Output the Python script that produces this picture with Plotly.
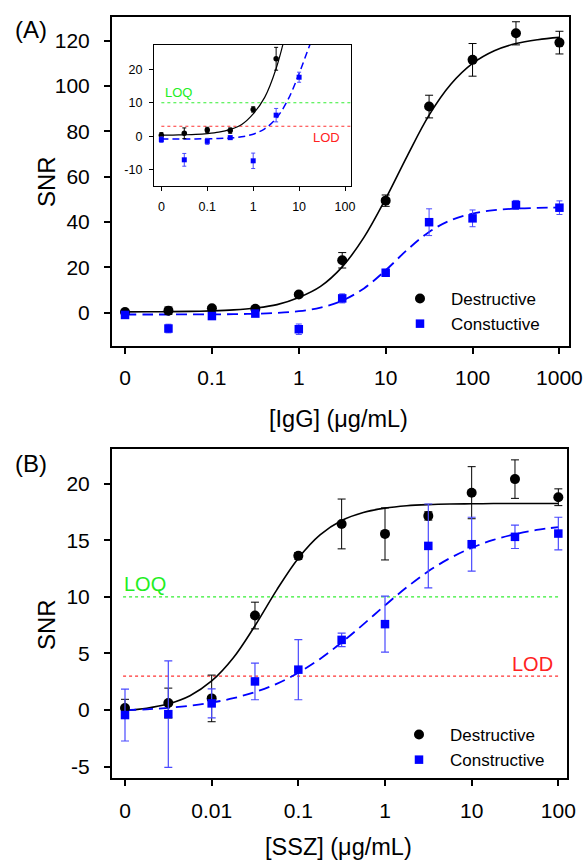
import plotly.graph_objects as go

FONT = "Arial, Liberation Sans, sans-serif"
W, H = 586, 864

# ---------------- Panel A data ([IgG]) ----------------
a_conc = [0.01, 0.0316, 0.1, 0.316, 1, 3.16, 10, 31.6, 100, 316, 1000]
a_tick_vals = [0.01, 0.1, 1, 10, 100, 1000]
a_tick_text = ["0", "0.1", "1", "10", "100", "1000"]
a_ytick_vals = [0, 20, 40, 60, 80, 100, 120]
a_ytick_text = ["0", "20", "40", "60", "80", "100", "120"]
a_des = [0.3, 0.9, 1.9, 1.7, 8.0, 23.1, 49.4, 90.9, 111.5, 123.2, 119.1]
a_des_err = [0.8, 1.6, 0.8, 0.8, 0.8, 3.4, 2.5, 5.0, 7.2, 5.1, 5.0]
a_con = [-1.0, -7.0, -1.5, -0.4, -7.3, 6.3, 17.6, 39.9, 41.6, 47.5, 46.3]
a_con_err = [0.8, 1.9, 0.9, 0.5, 2.3, 2.0, 1.5, 5.9, 3.7, 2.0, 3.0]

# fitted curves (at quarter decades)
a_fit_x = [0.01, 0.0178, 0.0316, 0.0562, 0.1, 0.178, 0.316, 0.562, 1, 1.78, 3.16,
           5.62, 10, 17.8, 31.6, 56.2, 100, 178, 316, 562, 1000]
a_des_fit = [0.34, 0.38, 0.45, 0.57, 0.81, 1.24, 2.05, 3.55, 6.7, 11.6, 20.2,
             33.2, 50.3, 69.3, 87.1, 100.7, 109.9, 115.5, 118.7, 120.4, 121.4]
a_con_fit = [-0.8, -0.8, -0.8, -0.77, -0.73, -0.66, -0.49, -0.13, 0.64, 2.23, 5.3,
             10.7, 18.7, 27.8, 35.6, 40.8, 43.7, 45.2, 45.9, 46.2, 46.4]

# inset
inset_tick_vals = [0.01, 0.1, 1, 10, 100]
inset_tick_text = ["0", "0.1", "1", "10", "100"]
inset_ytick_vals = [-10, 0, 10, 20]
inset_ytick_text = ["-10", "0", "10", "20"]
loq_level = 10
lod_level = 3
inset_line_x = [0.01, 1000]

# ---------------- Panel B data ([SSZ]) ----------------
b_conc = [0.001, 0.00316, 0.01, 0.0316, 0.1, 0.316, 1, 3.16, 10, 31.6, 100]
b_tick_vals = [0.001, 0.01, 0.1, 1, 10, 100]
b_tick_text = ["0", "0.01", "0.1", "1", "10", "100"]
b_ytick_vals = [-5, 0, 5, 10, 15, 20]
b_ytick_text = ["-5", "0", "5", "10", "15", "20"]
b_des = [0.18, 0.62, 1.03, 8.35, 13.62, 16.44, 15.56, 17.15, 19.2, 20.4, 18.8]
b_des_err = [0.77, 1.32, 2.06, 1.18, 0.3, 2.2, 2.3, 0.37, 2.3, 1.7, 0.74]
b_con = [-0.44, -0.36, 0.59, 2.53, 3.57, 6.2, 7.59, 14.5, 14.65, 15.3, 15.59]
b_con_err = [2.29, 4.7, 1.28, 1.62, 2.66, 0.59, 2.47, 3.7, 2.38, 1.03, 1.44]

b_fit_x = [0.001, 0.00178, 0.00316, 0.00562, 0.01, 0.0178, 0.0316, 0.0562, 0.1, 0.178,
           0.316, 0.562, 1, 1.78, 3.16, 5.62, 10, 17.8, 31.6, 56.2, 100]
b_des_fit = [-0.04, 0.16, 0.55, 1.27, 2.57, 4.62, 7.45, 10.6, 13.42, 15.48,
             16.75, 17.46, 17.84, 18.05, 18.15, 18.2, 18.22, 18.24, 18.25, 18.25, 18.25]
b_con_fit = [-0.01, 0.07, 0.20, 0.39, 0.66, 1.05, 1.59, 2.32, 3.30, 4.52,
             5.97, 7.57, 9.25, 10.84, 12.26, 13.42, 14.33, 15.03, 15.54, 15.91, 16.16]
b_line_x = [0.00095, 100]

# ---------------- layout geometry ----------------
def px_x(v):
    return v / W

def px_y(v):
    return 1 - v / H

fig = go.Figure()

BLUE = "#0000ff"
BLUE_ERR = "#4a4aff"

# Panel A main
fig.add_trace(go.Scatter(x=a_fit_x, y=a_des_fit, mode="lines", line=dict(color="black", width=1.6, shape="spline"),
                         xaxis="x", yaxis="y", showlegend=False, hoverinfo="skip"))
fig.add_trace(go.Scatter(x=a_fit_x, y=a_con_fit, mode="lines",
                         line=dict(color=BLUE, width=1.8, dash="11px,6px", shape="spline"),
                         xaxis="x", yaxis="y", showlegend=False, hoverinfo="skip"))
fig.add_trace(go.Scatter(x=a_conc, y=a_des, mode="markers", marker=dict(symbol="circle", size=10, color="black"),
                         error_y=dict(type="data", array=a_des_err, color="black", thickness=1, width=4),
                         xaxis="x", yaxis="y", showlegend=False))
fig.add_trace(go.Scatter(x=a_conc, y=a_con, mode="markers", marker=dict(symbol="square", size=8.5, color=BLUE),
                         error_y=dict(type="data", array=a_con_err, color=BLUE_ERR, thickness=1, width=3),
                         xaxis="x", yaxis="y", showlegend=False))
# legend entries A
fig.add_trace(go.Scatter(x=[None], y=[None], mode="markers", name="Destructive",
                         marker=dict(symbol="circle", size=10, color="black"), legend="legend",
                         xaxis="x", yaxis="y"))
fig.add_trace(go.Scatter(x=[None], y=[None], mode="markers", name="Constuctive",
                         marker=dict(symbol="square", size=8.5, color=BLUE), legend="legend",
                         xaxis="x", yaxis="y"))

# Inset
fig.add_trace(go.Scatter(x=inset_line_x, y=[loq_level, loq_level], mode="lines",
                         line=dict(color="#33ee33", width=1.2, dash="dot"),
                         xaxis="x3", yaxis="y3", showlegend=False, hoverinfo="skip"))
fig.add_trace(go.Scatter(x=inset_line_x, y=[lod_level, lod_level], mode="lines",
                         line=dict(color="#ff3333", width=1.2, dash="dot"),
                         xaxis="x3", yaxis="y3", showlegend=False, hoverinfo="skip"))
fig.add_trace(go.Scatter(x=a_fit_x, y=a_des_fit, mode="lines", line=dict(color="black", width=1.2, shape="spline"),
                         xaxis="x3", yaxis="y3", showlegend=False, hoverinfo="skip"))
fig.add_trace(go.Scatter(x=a_fit_x, y=a_con_fit, mode="lines",
                         line=dict(color=BLUE, width=1.5, dash="7px,4px", shape="spline"),
                         xaxis="x3", yaxis="y3", showlegend=False, hoverinfo="skip"))
fig.add_trace(go.Scatter(x=a_conc, y=a_des, mode="markers", marker=dict(symbol="circle", size=5.5, color="black"),
                         error_y=dict(type="data", array=a_des_err, color="black", thickness=1, width=2),
                         xaxis="x3", yaxis="y3", showlegend=False))
fig.add_trace(go.Scatter(x=a_conc, y=a_con, mode="markers", marker=dict(symbol="square", size=5, color=BLUE),
                         error_y=dict(type="data", array=a_con_err, color=BLUE_ERR, thickness=1, width=2),
                         xaxis="x3", yaxis="y3", showlegend=False))

# Panel B
fig.add_trace(go.Scatter(x=b_line_x, y=[loq_level, loq_level], mode="lines",
                         line=dict(color="#33ee33", width=1.3, dash="dot"),
                         xaxis="x2", yaxis="y2", showlegend=False, hoverinfo="skip"))
fig.add_trace(go.Scatter(x=b_line_x, y=[lod_level, lod_level], mode="lines",
                         line=dict(color="#ff3333", width=1.3, dash="dot"),
                         xaxis="x2", yaxis="y2", showlegend=False, hoverinfo="skip"))
fig.add_trace(go.Scatter(x=b_fit_x, y=b_des_fit, mode="lines", line=dict(color="black", width=1.6, shape="spline"),
                         xaxis="x2", yaxis="y2", showlegend=False, hoverinfo="skip"))
fig.add_trace(go.Scatter(x=b_fit_x, y=b_con_fit, mode="lines",
                         line=dict(color=BLUE, width=1.8, dash="11px,6px", shape="spline"),
                         xaxis="x2", yaxis="y2", showlegend=False, hoverinfo="skip"))
fig.add_trace(go.Scatter(x=b_conc, y=b_des, mode="markers", marker=dict(symbol="circle", size=10, color="black"),
                         error_y=dict(type="data", array=b_des_err, color="black", thickness=1, width=4),
                         xaxis="x2", yaxis="y2", showlegend=False))
fig.add_trace(go.Scatter(x=b_conc, y=b_con, mode="markers", marker=dict(symbol="square", size=8.5, color=BLUE),
                         error_y=dict(type="data", array=b_con_err, color=BLUE_ERR, thickness=1.2, width=4),
                         xaxis="x2", yaxis="y2", showlegend=False))
fig.add_trace(go.Scatter(x=[None], y=[None], mode="markers", name="Destructive",
                         marker=dict(symbol="circle", size=10, color="black"), legend="legend2",
                         xaxis="x2", yaxis="y2"))
fig.add_trace(go.Scatter(x=[None], y=[None], mode="markers", name="Constructive",
                         marker=dict(symbol="square", size=8.5, color=BLUE), legend="legend2",
                         xaxis="x2", yaxis="y2"))

axis_common = dict(showgrid=False, zeroline=False, showline=True, linecolor="black", mirror=True,
                   ticks="outside", tickcolor="black")

fig.update_layout(
    width=W, height=H, margin=dict(l=0, r=0, t=0, b=0, autoexpand=False), autosize=False,
    paper_bgcolor="white", plot_bgcolor="white",
    font=dict(family=FONT, color="black"),
    xaxis=dict(axis_common, type="log", domain=[px_x(112), px_x(569)], range=[-2.15, 3.11],
               tickvals=a_tick_vals, ticktext=a_tick_text, linewidth=2, ticklen=6, tickwidth=1.5,
               tickfont=dict(size=21), ticklabelstandoff=6, anchor="y"),
    yaxis=dict(axis_common, domain=[px_y(346), px_y(17)], range=[-14.7, 130.4],
               tickvals=a_ytick_vals, ticktext=a_ytick_text, linewidth=2, ticklen=6, tickwidth=1.5,
               tickfont=dict(size=21), ticklabelstandoff=10, anchor="x"),
    xaxis3=dict(axis_common, type="log", domain=[px_x(154), px_x(351)], range=[-2.16, 2.13],
                tickvals=inset_tick_vals, ticktext=inset_tick_text, linewidth=1.3, ticklen=4, tickwidth=1,
                tickfont=dict(size=12.5), ticklabelstandoff=5, anchor="y3"),
    yaxis3=dict(axis_common, domain=[px_y(186), px_y(45)], range=[-14.8, 27.2],
                tickvals=inset_ytick_vals, ticktext=inset_ytick_text, linewidth=1.3, ticklen=4, tickwidth=1,
                tickfont=dict(size=12.5), ticklabelstandoff=4, anchor="x3"),
    xaxis2=dict(axis_common, type="log", domain=[px_x(112), px_x(567)], range=[-3.15, 2.10],
                tickvals=b_tick_vals, ticktext=b_tick_text, linewidth=2, ticklen=6, tickwidth=1.5,
                tickfont=dict(size=21), ticklabelstandoff=7, anchor="y2"),
    yaxis2=dict(axis_common, domain=[px_y(778), px_y(449)], range=[-6.0, 23.06],
                tickvals=b_ytick_vals, ticktext=b_ytick_text, linewidth=2, ticklen=6, tickwidth=1.5,
                tickfont=dict(size=21), ticklabelstandoff=10, anchor="x2"),
    legend=dict(x=px_x(389), y=px_y(281), xanchor="left", yanchor="top", bgcolor="rgba(0,0,0,0)",
                font=dict(size=17), tracegroupgap=0, itemwidth=52),
    legend2=dict(x=px_x(388), y=px_y(717), xanchor="left", yanchor="top", bgcolor="rgba(0,0,0,0)",
                 font=dict(size=17), tracegroupgap=0, itemwidth=52),
    showlegend=True,
)

annotations = [
    dict(text="(A)", x=px_x(31), y=px_y(30), font=dict(size=24)),
    dict(text="(B)", x=px_x(31), y=px_y(463), font=dict(size=24)),
    dict(text="SNR", x=px_x(46), y=px_y(182), textangle=-90, font=dict(size=24)),
    dict(text="SNR", x=px_x(46), y=px_y(625), textangle=-90, font=dict(size=24)),
    dict(text="[IgG] (\u03bcg/mL)", x=px_x(339), y=px_y(419), font=dict(size=23.5)),
    dict(text="[SSZ] (\u03bcg/mL)", x=px_x(339), y=px_y(847), font=dict(size=23.5)),
    dict(text="LOQ", x=px_x(163), y=px_y(92), xanchor="left", font=dict(size=13, color="#22ee22")),
    dict(text="LOD", x=px_x(342), y=px_y(137), xanchor="right", font=dict(size=13, color="#ff2222")),
    dict(text="LOQ", x=px_x(122), y=px_y(584), xanchor="left", font=dict(size=20, color="#22ee22")),
    dict(text="LOD", x=px_x(555), y=px_y(664), xanchor="right", font=dict(size=20, color="#ff2222")),
]
for a in annotations:
    a.update(xref="paper", yref="paper", showarrow=False, yanchor=a.get("yanchor", "middle"),
             xanchor=a.get("xanchor", "center"))
fig.update_layout(annotations=annotations)

fig.write_html("out.html", config={"responsive": False},
               post_script="document.body.style.margin='0';document.documentElement.style.overflow='hidden';document.body.style.overflow='hidden';")
